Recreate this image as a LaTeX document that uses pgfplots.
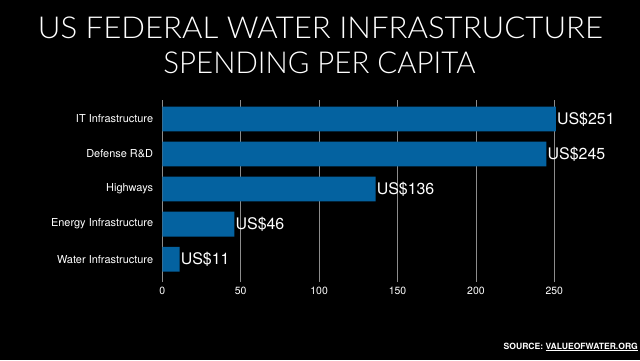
\documentclass[border=0pt]{standalone}
\usepackage{fontspec}
\setmainfont{TeX Gyre Heros}
\newfontfamily\titlefont{Lato Light}
\usepackage{pgfplots}
\pgfplotsset{compat=1.18}
\definecolor{barblue}{RGB}{4,98,160}
\definecolor{gridgray}{RGB}{140,140,140}
\begin{document}
\begin{tikzpicture}[x=1bp,y=1bp]
\fill[black] (0,0) rectangle (640,360);
\useasboundingbox (0,0) rectangle (640,360);
\node[anchor=base,text=white,inner sep=0] at (320.5,321.5) {\resizebox{565bp}{21.6bp}{\titlefont US FEDERAL WATER INFRASTRUCTURE}};
\node[anchor=base,text=white,inner sep=0] at (319.5,286.5) {\resizebox{312bp}{21.6bp}{\titlefont SPENDING PER CAPITA}};
\begin{axis}[
  at={(162.3bp,78bp)}, anchor=south west,
  scale only axis, width=392bp, height=182bp,
  xbar, bar width=24.8bp,
  xmin=0, xmax=250, ymin=-0.65, ymax=4.54,
  ytick={0,1,2,3,4},
  yticklabels={Water Infrastructure,Energy Infrastructure,Highways,Defense R\&D,IT Infrastructure},
  xtick={0,50,100,150,200,250},
  xmajorgrids, grid style={gridgray, line width=0.6bp},
  axis line style={draw=none}, tick style={draw=none},
  major tick length=0,
  clip=false,
  /pgf/number format/assume math mode=true,
  xticklabel style={text=white, font=\fontsize{10.5}{12}\selectfont, anchor=north, inner sep=0, yshift=-4.5bp},
  yticklabel style={text=white, font=\fontsize{11}{12}\selectfont, anchor=east, inner sep=0, xshift=-9bp},
  nodes near coords={US\$\pgfmathprintnumber{\pgfplotspointmeta}},
  nodes near coords style={text=white, font=\fontsize{16}{18}\selectfont, anchor=west, inner sep=1bp},
  point meta=x,
]
\addplot[fill=barblue, draw=none] coordinates {(11,0) (46,1) (136,2) (245,3) (251,4)};
\end{axis}
\node[anchor=base east,text=white,inner sep=0,font=\fontsize{8.6}{10}\selectfont\bfseries] at (638,11) {SOURCE: \underline{VALUEOFWATER.ORG}};
\end{tikzpicture}
\end{document}
